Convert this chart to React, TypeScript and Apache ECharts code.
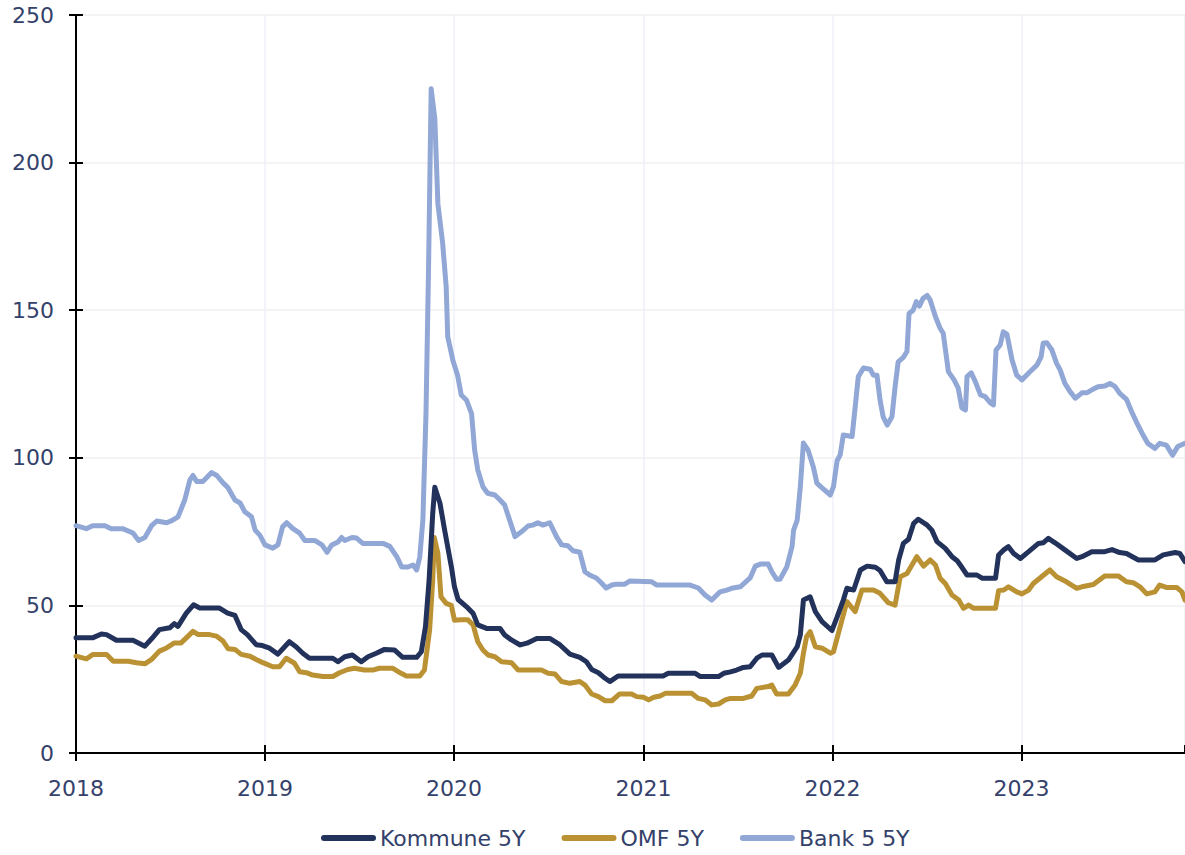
import React, { useEffect, useRef } from "react";
import * as echarts from "echarts";

const seriesNames = ["Kommune 5Y", "OMF 5Y", "Bank 5 5Y"];
const yTicks = [0, 50, 100, 150, 200, 250];

const kommuneData: [string, number][] = [
  ["2018-01-01", 39], ["2018-02-02", 39], ["2018-02-19", 40.3], ["2018-03-01", 40.1], ["2018-03-20", 38.2],
  ["2018-04-21", 38.2], ["2018-05-14", 36.2], ["2018-05-27", 38.7], ["2018-06-11", 41.8], ["2018-07-01", 42.4],
  ["2018-07-10", 43.8], ["2018-07-17", 42.9], ["2018-08-02", 47.4], ["2018-08-16", 50.2], ["2018-08-28", 49.1],
  ["2018-10-05", 49.1], ["2018-10-21", 47.4], ["2018-11-04", 46.6], ["2018-11-16", 41.8], ["2018-11-28", 40.1],
  ["2018-12-15", 36.7], ["2018-12-27", 36.4], ["2019-01-10", 35.5], ["2019-01-26", 33.5], ["2019-02-08", 36],
  ["2019-02-17", 37.7], ["2019-03-02", 36], ["2019-03-15", 33.8], ["2019-03-28", 32.1], ["2019-05-12", 32.1],
  ["2019-05-22", 30.9], ["2019-06-04", 32.6], ["2019-06-19", 33.2], ["2019-07-06", 30.9], ["2019-07-19", 32.6],
  ["2019-08-04", 33.8], ["2019-08-20", 35.1], ["2019-09-08", 34.9], ["2019-09-24", 32.4], ["2019-10-21", 32.4],
  ["2019-10-30", 34.3], ["2019-11-07", 42.8], ["2019-11-14", 58.6], ["2019-11-21", 81.2], ["2019-11-25", 90],
  ["2019-12-05", 84.6], ["2019-12-14", 75.5], ["2019-12-27", 63.1], ["2020-01-02", 56.3], ["2020-01-09", 52],
  ["2020-01-25", 49.6], ["2020-02-07", 47.3], ["2020-02-16", 43.4], ["2020-03-04", 42.2], ["2020-03-30", 42.2],
  ["2020-04-08", 40], ["2020-04-21", 38.3], ["2020-05-08", 36.6], ["2020-05-21", 37.2], ["2020-06-09", 38.8],
  ["2020-07-04", 38.8], ["2020-07-24", 36.6], ["2020-08-12", 33.5], ["2020-08-31", 32.4], ["2020-09-13", 30.9],
  ["2020-09-23", 28.3], ["2020-10-06", 27.2], ["2020-10-19", 25.3], ["2020-10-28", 24.2], ["2020-11-13", 26.1],
  ["2021-02-08", 26.1], ["2021-02-18", 27], ["2021-04-11", 27], ["2021-04-21", 25.9], ["2021-05-26", 25.9],
  ["2021-06-05", 27], ["2021-06-18", 27.5], ["2021-06-30", 28.1], ["2021-07-13", 29], ["2021-07-26", 29.2],
  ["2021-08-08", 32.1], ["2021-08-18", 33.2], ["2021-09-06", 33.2], ["2021-09-19", 29], ["2021-10-08", 31.5],
  ["2021-10-25", 36], ["2021-10-31", 40], ["2021-11-06", 51.8], ["2021-11-19", 52.9], ["2021-11-29", 47.9],
  ["2021-12-12", 44.5], ["2021-12-31", 41.5], ["2022-01-10", 46], ["2022-01-22", 51.8], ["2022-01-29", 55.8],
  ["2022-02-11", 55.2], ["2022-02-24", 62], ["2022-03-09", 63.3], ["2022-03-25", 62.9], ["2022-04-03", 61.8],
  ["2022-04-16", 58], ["2022-05-02", 58], ["2022-05-09", 65.4], ["2022-05-18", 71], ["2022-05-28", 72.4],
  ["2022-06-07", 77.8], ["2022-06-16", 79.2], ["2022-07-03", 77.2], ["2022-07-12", 75.5], ["2022-07-22", 71.6],
  ["2022-08-07", 69.3], ["2022-08-20", 66.5], ["2022-08-30", 65.1], ["2022-09-08", 62.9], ["2022-09-18", 60.3],
  ["2022-10-07", 60.3], ["2022-10-17", 59.2], ["2022-11-12", 59.2], ["2022-11-18", 67.1], ["2022-11-28", 68.8],
  ["2022-12-07", 69.9], ["2022-12-17", 67.6], ["2022-12-30", 65.9], ["2023-01-15", 68.2], ["2023-02-03", 71],
  ["2023-02-12", 71.2], ["2023-02-22", 72.7], ["2023-03-07", 71.2], ["2023-03-26", 68.8], ["2023-04-18", 65.9],
  ["2023-04-28", 66.5], ["2023-05-17", 68.2], ["2023-06-11", 68.2], ["2023-06-25", 68.9], ["2023-07-10", 67.9],
  ["2023-07-23", 67.6], ["2023-08-15", 65.4], ["2023-09-16", 65.4], ["2023-10-02", 67.1], ["2023-10-25", 67.9],
  ["2023-11-03", 67.6], ["2023-11-13", 64.8],
];

const omfData: [string, number][] = [
  ["2018-01-01", 32.8], ["2018-01-21", 31.9], ["2018-02-03", 33.4], ["2018-03-01", 33.4], ["2018-03-14", 31.1],
  ["2018-04-12", 31.1], ["2018-04-28", 30.6], ["2018-05-14", 30.2], ["2018-05-27", 31.7], ["2018-06-11", 34.5],
  ["2018-06-25", 35.6], ["2018-07-10", 37.3], ["2018-07-23", 37.3], ["2018-08-02", 39], ["2018-08-15", 41.2],
  ["2018-08-25", 40.1], ["2018-09-16", 40.1], ["2018-09-29", 39.6], ["2018-10-12", 37.9], ["2018-10-22", 35.3],
  ["2018-11-04", 35.1], ["2018-11-16", 33.4], ["2018-12-03", 32.8], ["2018-12-15", 31.7], ["2018-12-28", 30.6],
  ["2019-01-16", 29.2], ["2019-01-29", 29.2], ["2019-02-11", 32.1], ["2019-02-27", 30.4], ["2019-03-09", 27.5],
  ["2019-03-22", 27.2], ["2019-04-03", 26.4], ["2019-04-23", 25.9], ["2019-05-12", 25.9], ["2019-05-25", 27.2],
  ["2019-06-10", 28.3], ["2019-06-23", 28.7], ["2019-07-12", 28.1], ["2019-07-28", 28.1], ["2019-08-10", 28.7],
  ["2019-09-05", 28.7], ["2019-09-21", 27], ["2019-10-01", 26.1], ["2019-10-27", 26.1], ["2019-11-05", 28.1],
  ["2019-11-15", 41.7], ["2019-11-21", 58.6], ["2019-11-24", 73], ["2019-12-01", 67.6], ["2019-12-07", 52.9],
  ["2019-12-17", 50.7], ["2019-12-27", 50], ["2020-01-02", 45], ["2020-01-15", 45.1], ["2020-01-28", 45.1],
  ["2020-02-07", 43.4], ["2020-02-16", 37.7], ["2020-02-26", 34.9], ["2020-03-07", 33.2], ["2020-03-20", 32.6],
  ["2020-04-02", 30.9], ["2020-04-21", 30.6], ["2020-05-04", 28.1], ["2020-06-18", 28.1], ["2020-07-01", 27],
  ["2020-07-14", 26.8], ["2020-07-27", 24.2], ["2020-08-12", 23.6], ["2020-08-31", 24.2], ["2020-09-10", 23],
  ["2020-09-23", 20], ["2020-10-06", 19.1], ["2020-10-19", 17.7], ["2020-11-01", 17.7], ["2020-11-16", 20],
  ["2020-12-09", 20], ["2020-12-19", 19.1], ["2021-01-01", 18.9], ["2021-01-11", 18], ["2021-01-21", 18.9],
  ["2021-02-02", 19.3], ["2021-02-12", 20.2], ["2021-04-04", 20.2], ["2021-04-17", 18.5], ["2021-04-30", 18],
  ["2021-05-13", 16.3], ["2021-05-26", 16.6], ["2021-06-08", 18], ["2021-06-18", 18.5], ["2021-07-13", 18.5],
  ["2021-07-29", 19.3], ["2021-08-08", 21.9], ["2021-08-30", 22.5], ["2021-09-06", 23], ["2021-09-15", 20],
  ["2021-10-08", 20], ["2021-10-21", 23], ["2021-10-31", 27], ["2021-11-06", 33.8], ["2021-11-12", 39.4],
  ["2021-11-19", 41.1], ["2021-11-29", 36], ["2021-12-12", 35.5], ["2021-12-28", 33.8], ["2022-01-03", 34.3],
  ["2022-01-16", 42.8], ["2022-01-29", 51.3], ["2022-02-14", 47.9], ["2022-02-27", 55.2], ["2022-03-21", 55.2],
  ["2022-04-03", 54.1], ["2022-04-19", 50.9], ["2022-05-02", 50.1], ["2022-05-12", 59.7], ["2022-05-25", 60.8],
  ["2022-06-13", 66.5], ["2022-06-26", 63.3], ["2022-07-09", 65.4], ["2022-07-19", 63.7], ["2022-07-28", 59.2],
  ["2022-08-07", 57.4], ["2022-08-20", 53.5], ["2022-09-02", 51.8], ["2022-09-11", 49], ["2022-09-21", 50.1],
  ["2022-10-01", 49], ["2022-11-12", 49], ["2022-11-18", 55], ["2022-11-28", 55.2], ["2022-12-07", 56.3],
  ["2022-12-23", 54.6], ["2023-01-02", 53.9], ["2023-01-15", 55.2], ["2023-01-24", 57.4], ["2023-02-09", 59.7],
  ["2023-02-25", 62], ["2023-03-10", 59.7], ["2023-03-29", 58], ["2023-04-18", 55.8], ["2023-04-28", 56.3],
  ["2023-05-20", 57.1], ["2023-06-11", 60], ["2023-07-07", 60], ["2023-07-23", 58], ["2023-08-05", 57.7],
  ["2023-08-18", 56.3], ["2023-08-31", 53.9], ["2023-09-16", 54.6], ["2023-09-25", 56.9], ["2023-10-08", 56.1],
  ["2023-10-28", 56.1], ["2023-11-07", 54.6], ["2023-11-13", 51.8],
];

const bankData: [string, number][] = [
  ["2018-01-01", 77], ["2018-01-21", 76], ["2018-02-02", 77], ["2018-02-26", 77], ["2018-03-10", 76],
  ["2018-04-01", 76], ["2018-04-21", 74.5], ["2018-05-02", 72], ["2018-05-14", 73], ["2018-05-27", 77],
  ["2018-06-06", 78.6], ["2018-06-25", 78], ["2018-07-05", 78.7], ["2018-07-17", 80], ["2018-07-30", 85.7],
  ["2018-08-09", 92.5], ["2018-08-15", 94], ["2018-08-22", 92], ["2018-09-03", 92], ["2018-09-20", 95],
  ["2018-09-30", 94], ["2018-10-12", 91.5], ["2018-10-21", 90], ["2018-11-04", 85.7], ["2018-11-14", 84.7],
  ["2018-11-23", 81.7], ["2018-12-06", 80], ["2018-12-13", 75.5], ["2018-12-22", 73.8], ["2019-01-01", 70.5],
  ["2019-01-16", 69.4], ["2019-01-26", 70.5], ["2019-02-04", 76.6], ["2019-02-12", 78], ["2019-02-24", 76],
  ["2019-03-09", 74.5], ["2019-03-19", 72], ["2019-04-07", 72], ["2019-04-21", 70.5], ["2019-05-01", 68],
  ["2019-05-10", 70.5], ["2019-05-22", 71.5], ["2019-05-29", 73], ["2019-06-04", 72], ["2019-06-18", 73],
  ["2019-06-27", 72.8], ["2019-07-09", 71], ["2019-08-17", 71], ["2019-08-30", 70], ["2019-09-13", 66.4],
  ["2019-09-22", 63], ["2019-10-04", 63], ["2019-10-14", 63.7], ["2019-10-21", 62], ["2019-10-27", 66.4],
  ["2019-11-02", 79], ["2019-11-08", 115], ["2019-11-13", 165], ["2019-11-18", 225], ["2019-11-25", 215],
  ["2019-12-01", 186], ["2019-12-10", 173], ["2019-12-17", 158], ["2019-12-20", 141], ["2019-12-30", 133],
  ["2020-01-08", 128], ["2020-01-15", 121.3], ["2020-01-25", 119.6], ["2020-02-04", 115], ["2020-02-10", 102.6],
  ["2020-02-16", 95.9], ["2020-02-26", 90.2], ["2020-03-06", 88], ["2020-03-20", 87.4], ["2020-03-30", 85.7],
  ["2020-04-08", 84], ["2020-04-28", 73.3], ["2020-05-11", 75], ["2020-05-23", 76.9], ["2020-06-01", 77.2],
  ["2020-06-11", 78], ["2020-06-21", 77.2], ["2020-07-04", 78], ["2020-07-17", 73.3], ["2020-07-27", 70.5],
  ["2020-08-08", 70.2], ["2020-08-18", 68.5], ["2020-08-31", 68], ["2020-09-10", 61.4], ["2020-09-19", 60.3],
  ["2020-10-02", 59.3], ["2020-10-12", 57.6], ["2020-10-21", 55.9], ["2020-11-01", 56.9], ["2020-11-10", 57.2],
  ["2020-11-26", 57.2], ["2020-12-06", 58.3], ["2021-01-17", 58], ["2021-01-27", 56.9], ["2021-04-01", 56.9],
  ["2021-04-17", 55.9], ["2021-04-30", 53.5], ["2021-05-13", 51.8], ["2021-05-29", 54.6], ["2021-06-11", 55.2],
  ["2021-06-23", 55.9], ["2021-07-07", 56.3], ["2021-07-26", 59.3], ["2021-08-05", 63.3], ["2021-08-15", 64],
  ["2021-08-30", 64], ["2021-09-06", 61.4], ["2021-09-15", 58.9], ["2021-09-22", 58.9], ["2021-10-05", 63.1],
  ["2021-10-15", 69.9], ["2021-10-18", 75.5], ["2021-10-25", 78.9], ["2021-10-31", 90.2], ["2021-11-06", 105],
  ["2021-11-15", 102.6], ["2021-11-25", 97], ["2021-12-02", 91.4], ["2021-12-12", 89.8], ["2021-12-28", 87.4],
  ["2022-01-03", 90.2], ["2022-01-10", 99], ["2022-01-16", 101], ["2022-01-22", 107.7], ["2022-02-08", 107.2],
  ["2022-02-14", 117.3], ["2022-02-20", 127.5], ["2022-03-02", 130.4], ["2022-03-15", 130], ["2022-03-21", 128],
  ["2022-03-28", 128], ["2022-04-03", 119.6], ["2022-04-09", 113.9], ["2022-04-17", 111.1], ["2022-04-26", 113.9],
  ["2022-05-02", 124], ["2022-05-08", 132.5], ["2022-05-18", 134], ["2022-05-25", 136], ["2022-05-29", 148.9],
  ["2022-06-06", 150], ["2022-06-12", 152.9], ["2022-06-18", 151.4], ["2022-06-25", 154], ["2022-07-03", 155],
  ["2022-07-09", 153.4], ["2022-07-19", 147.8], ["2022-07-28", 143.9], ["2022-08-03", 142.2], ["2022-08-13", 129.2],
  ["2022-08-24", 126.4], ["2022-09-01", 123.6], ["2022-09-08", 116.9], ["2022-09-15", 116.2], ["2022-09-18", 127.5],
  ["2022-09-26", 128.8], ["2022-10-04", 125.8], ["2022-10-14", 121.3], ["2022-10-23", 120.7], ["2022-11-02", 118.6],
  ["2022-11-08", 117.9], ["2022-11-13", 136.5], ["2022-11-21", 138.2], ["2022-11-27", 142.7], ["2022-12-04", 141.9],
  ["2022-12-14", 133.1], ["2022-12-23", 128], ["2023-01-02", 126.4], ["2023-01-18", 129.2], ["2023-01-31", 131.4],
  ["2023-02-08", 134.2], ["2023-02-12", 138.8], ["2023-02-19", 139], ["2023-03-01", 136.5], ["2023-03-10", 132],
  ["2023-03-17", 129.7], ["2023-03-26", 125.2], ["2023-04-05", 122.4], ["2023-04-15", 120.2], ["2023-04-28", 122],
  ["2023-05-07", 122], ["2023-05-19", 123.2], ["2023-05-29", 124.1], ["2023-06-11", 124.3], ["2023-06-21", 125.2],
  ["2023-07-01", 124.1], ["2023-07-10", 121.8], ["2023-07-23", 119.8], ["2023-08-02", 115.6], ["2023-08-11", 112.2],
  ["2023-08-24", 107.7], ["2023-09-02", 104.9], ["2023-09-16", 103.2], ["2023-09-25", 104.9], ["2023-10-08", 104.3],
  ["2023-10-20", 100.9], ["2023-10-30", 103.8], ["2023-11-13", 104.9],
];

const xMin = "2018-01-01";
const xMax = "2023-11-13";

const TEXT = "#34416b";
const FONT = "DejaVu Sans";
const FS = 22;
const colors = ["#22325a", "#bb9233", "#91a7d6"];
const capsule = "path://M3,0 L52,0 A3,3 0 0 1 52,6 L3,6 A3,3 0 0 1 3,0 Z";

export default function App() {
  const ref = useRef<HTMLDivElement>(null);
  useEffect(() => {
    if (!ref.current) return;
    const chart = echarts.init(ref.current, undefined, { renderer: "svg" });
    const YEAR = 365 * 24 * 3600 * 1000;
    const baseX = {
      type: "time",
      min: xMin,
      max: xMax,
      splitNumber: 6,
      minInterval: YEAR,
      maxInterval: YEAR * 1.01,
    };
    chart.setOption({
      animation: false,
      color: colors,
      textStyle: { fontFamily: FONT },
      grid: { left: 76, right: 0, top: 15, bottom: 102, containLabel: false },
      legend: {
        bottom: 1,
        left: 316,
        itemWidth: 55,
        itemHeight: 6,
        itemGap: 36,
        icon: capsule,
        textStyle: { color: TEXT, fontSize: FS, fontFamily: FONT, padding: [0, 0, 0, -1] },
        data: seriesNames,
      },
      xAxis: [
        {
          ...baseX,
          axisLine: { show: true, lineStyle: { color: "#000", width: 2 } },
          axisTick: { show: true, length: 8, inside: false, lineStyle: { color: "#000", width: 2 } },
          axisLabel: {
            formatter: "{yyyy}",
            color: TEXT,
            fontSize: FS,
            fontFamily: FONT,
            margin: 24,
            showMaxLabel: false,
          },
          splitLine: { show: true, lineStyle: { color: "#eef1f8", width: 1.5 } },
        },
        {
          ...baseX,
          position: "bottom",
          axisLine: { show: false },
          axisTick: { show: true, length: 8, inside: true, lineStyle: { color: "#000", width: 2 } },
          axisLabel: { show: false },
          splitLine: { show: false },
        },
      ],
      yAxis: [
        {
          type: "value",
          min: yTicks[0],
          max: yTicks[yTicks.length - 1],
          interval: 50,
          axisLine: { show: true, lineStyle: { color: "#000", width: 2 } },
          axisTick: { show: true, length: 7, inside: false, lineStyle: { color: "#000", width: 2 } },
          axisLabel: { color: TEXT, fontSize: FS, fontFamily: FONT, margin: 22 },
          splitLine: { show: true, lineStyle: { color: "#f0f0f2", width: 1.5 } },
        },
        {
          type: "value",
          position: "left",
          min: yTicks[0],
          max: yTicks[yTicks.length - 1],
          interval: 50,
          axisLine: { show: false },
          axisTick: { show: true, length: 7, inside: true, lineStyle: { color: "#000", width: 2 } },
          axisLabel: { show: false },
          splitLine: { show: false },
        },
      ],
      series: [
        { name: seriesNames[0], data: kommuneData, z: 3 },
        { name: seriesNames[1], data: omfData, z: 2 },
        { name: seriesNames[2], data: bankData, z: 1 },
      ].map((s, i) => ({
        ...s,
        type: "line",
        xAxisIndex: 0,
        yAxisIndex: 0,
        showSymbol: false,
        symbol: "none",
        lineStyle: { width: 5, color: colors[i], join: "round", cap: "round" },
        itemStyle: { color: colors[i] },
      })),
    });
    return () => chart.dispose();
  }, []);
  return (
    <div
      ref={ref}
      style={{ position: "absolute", left: 0, top: 0, width: 1185, height: 855, background: "#fff" }}
    />
  );
}
